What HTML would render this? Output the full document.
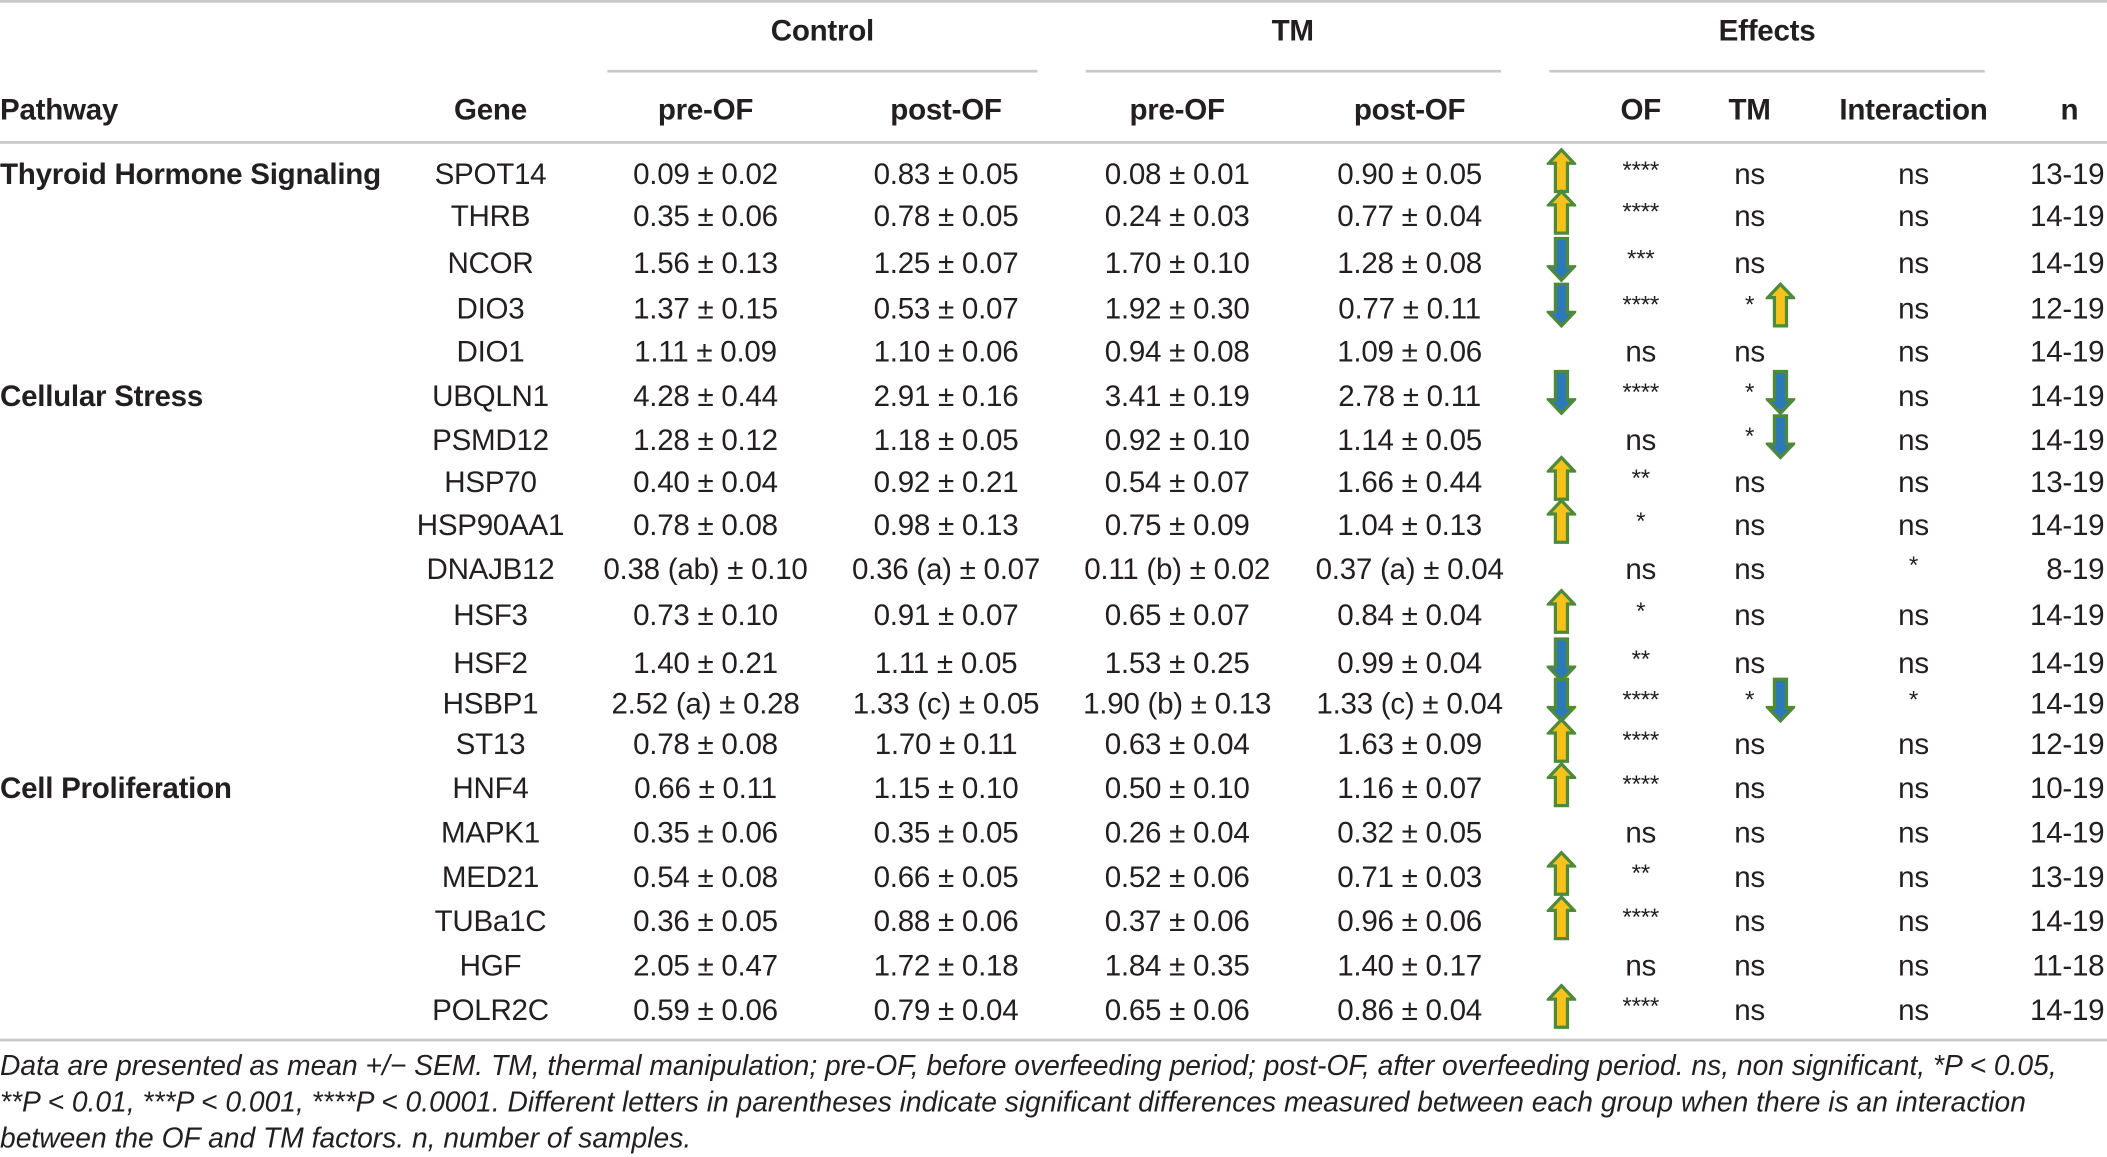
<!DOCTYPE html>
<html><head><meta charset="utf-8">
<style>
html,body{margin:0;padding:0;background:#fff;}
body{width:2107px;height:1157px;overflow:hidden;position:relative;}
#wrap{position:absolute;left:0;top:0;width:1568px;height:861px;transform:scale(1.34375);transform-origin:0 0;font-family:"Liberation Sans",sans-serif;color:#231f20;}
.t{position:absolute;white-space:nowrap;font-size:22px;transform:translate(-50%,-50%);letter-spacing:-0.2px;}
.l{transform:translate(0,-50%);}
.r{transform:translate(-100%,-50%);}
.b{font-weight:bold;}
.s{font-size:18px;}
.hl{position:absolute;height:2px;background:#c8c8c8;}
.foot{position:absolute;left:0;font-size:21px;font-style:italic;white-space:nowrap;letter-spacing:0px;}
svg.ar{position:absolute;}
</style></head><body>
<div id="wrap">
<div class="hl" style="left:0;top:0;width:1568px"></div>
<div class="t b" style="left:612px;top:23px">Control</div>
<div class="t b" style="left:962px;top:23px">TM</div>
<div class="t b" style="left:1315px;top:23px">Effects</div>
<div class="hl" style="left:452px;top:52px;width:320px"></div>
<div class="hl" style="left:808px;top:52px;width:309px"></div>
<div class="hl" style="left:1153px;top:52px;width:324px"></div>
<div class="t b l" style="left:0;top:82px">Pathway</div>
<div class="t b" style="left:365px;top:82px">Gene</div>
<div class="t b" style="left:525px;top:82px">pre-OF</div>
<div class="t b" style="left:704px;top:82px">post-OF</div>
<div class="t b" style="left:876px;top:82px">pre-OF</div>
<div class="t b" style="left:1049px;top:82px">post-OF</div>
<div class="t b" style="left:1221px;top:82px">OF</div>
<div class="t b" style="left:1302px;top:82px">TM</div>
<div class="t b" style="left:1424px;top:82px">Interaction</div>
<div class="t b" style="left:1540px;top:82px">n</div>
<div class="hl" style="left:0;top:105px;width:1568px"></div>
<div class="hl" style="left:0;top:773px;width:1568px"></div>
<div class="foot" style="top:782px">Data are presented as mean +/− SEM. TM, thermal manipulation; pre-OF, before overfeeding period; post-OF, after overfeeding period. ns, non significant, *P &lt; 0.05,</div>
<div class="foot" style="top:809px">**P &lt; 0.01, ***P &lt; 0.001, ****P &lt; 0.0001. Different letters in parentheses indicate significant differences measured between each group when there is an interaction</div>
<div class="foot" style="top:836px">between the OF and TM factors. n, number of samples.</div>
</div>
<script>
const genes=["SPOT14","THRB","NCOR","DIO3","DIO1","UBQLN1","PSMD12","HSP70","HSP90AA1","DNAJB12","HSF3","HSF2","HSBP1","ST13","HNF4","MAPK1","MED21","TUBa1C","HGF","POLR2C"];
const rowY=[130,161,196,230,262,295,328,359,391,424,458,494,524,554,587,620,653,686,719,752];
const pathways={0:"Thyroid Hormone Signaling",5:"Cellular Stress",14:"Cell Proliferation"};
const ctrlPre=["0.09 ± 0.02","0.35 ± 0.06","1.56 ± 0.13","1.37 ± 0.15","1.11 ± 0.09","4.28 ± 0.44","1.28 ± 0.12","0.40 ± 0.04","0.78 ± 0.08","0.38 (ab) ± 0.10","0.73 ± 0.10","1.40 ± 0.21","2.52 (a) ± 0.28","0.78 ± 0.08","0.66 ± 0.11","0.35 ± 0.06","0.54 ± 0.08","0.36 ± 0.05","2.05 ± 0.47","0.59 ± 0.06"];
const ctrlPost=["0.83 ± 0.05","0.78 ± 0.05","1.25 ± 0.07","0.53 ± 0.07","1.10 ± 0.06","2.91 ± 0.16","1.18 ± 0.05","0.92 ± 0.21","0.98 ± 0.13","0.36 (a) ± 0.07","0.91 ± 0.07","1.11 ± 0.05","1.33 (c) ± 0.05","1.70 ± 0.11","1.15 ± 0.10","0.35 ± 0.05","0.66 ± 0.05","0.88 ± 0.06","1.72 ± 0.18","0.79 ± 0.04"];
const tmPre=["0.08 ± 0.01","0.24 ± 0.03","1.70 ± 0.10","1.92 ± 0.30","0.94 ± 0.08","3.41 ± 0.19","0.92 ± 0.10","0.54 ± 0.07","0.75 ± 0.09","0.11 (b) ± 0.02","0.65 ± 0.07","1.53 ± 0.25","1.90 (b) ± 0.13","0.63 ± 0.04","0.50 ± 0.10","0.26 ± 0.04","0.52 ± 0.06","0.37 ± 0.06","1.84 ± 0.35","0.65 ± 0.06"];
const tmPost=["0.90 ± 0.05","0.77 ± 0.04","1.28 ± 0.08","0.77 ± 0.11","1.09 ± 0.06","2.78 ± 0.11","1.14 ± 0.05","1.66 ± 0.44","1.04 ± 0.13","0.37 (a) ± 0.04","0.84 ± 0.04","0.99 ± 0.04","1.33 (c) ± 0.04","1.63 ± 0.09","1.16 ± 0.07","0.32 ± 0.05","0.71 ± 0.03","0.96 ± 0.06","1.40 ± 0.17","0.86 ± 0.04"];
const ofEff=["****","****","***","****","ns","****","ns","**","*","ns","*","**","****","****","****","ns","**","****","ns","****"];
const tmEff=["ns","ns","ns","*","ns","*","*","ns","ns","ns","ns","ns","*","ns","ns","ns","ns","ns","ns","ns"];
const interEff=["ns","ns","ns","ns","ns","ns","ns","ns","ns","*","ns","ns","*","ns","ns","ns","ns","ns","ns","ns"];
const nVals=["13-19","14-19","14-19","12-19","14-19","14-19","14-19","13-19","14-19","8-19","14-19","14-19","14-19","12-19","10-19","14-19","13-19","14-19","11-18","14-19"];
const ofArrow=["up","up","down","down","","down","","up","up","","up","down","down","up","up","","up","up","","up"];
const tmArrow=["","","","up","","down","down","","","","","","down","","","","","","",""];
const W=document.getElementById('wrap');
function txt(s,x,y,cls){const d=document.createElement('div');d.className='t '+(cls||'');d.textContent=s;d.style.left=x+'px';d.style.top=y+'px';W.appendChild(d);return d;}
function arrow(dir,x,y){
 const ns='http://www.w3.org/2000/svg';const s=document.createElementNS(ns,'svg');
 s.setAttribute('class','ar');s.setAttribute('width','22');s.setAttribute('height','34');s.setAttribute('viewBox','0 0 22 34');
 s.style.left=(x-11)+'px';s.style.top=(y-17)+'px';
 const p=document.createElementNS(ns,'polygon');
 p.setAttribute('points',dir==='up'?'11,1.5 20.5,11.5 15.5,11.5 15.5,32.5 6.5,32.5 6.5,11.5 1.5,11.5':'11,32.5 20.5,22.5 15.5,22.5 15.5,1.5 6.5,1.5 6.5,22.5 1.5,22.5');
 p.setAttribute('fill',dir==='up'?'#f7c21a':'#2b79b8');p.setAttribute('stroke','#4f8a3a');p.setAttribute('stroke-width','2.4');
 s.appendChild(p);W.appendChild(s);return s;}
function isStar(v){return v.indexOf('*')===0;}
for(let i=0;i<genes.length;i++){
 const y=rowY[i];let e;
 if(pathways[i]!==undefined){e=txt(pathways[i],0,y,'b l');
 
 }
 e=txt(genes[i],365,y);
 
 
 e=txt(ctrlPre[i],525,y);
 
 
 e=txt(ctrlPost[i],704,y);
 
 
 e=txt(tmPre[i],876,y);
 
 
 e=txt(tmPost[i],1049,y);
 
 
 e=txt(ofEff[i],1221,isStar(ofEff[i])?y-3:y,isStar(ofEff[i])?'s':'');
 
 
 e=txt(tmEff[i],1302,isStar(tmEff[i])?y-3:y,isStar(tmEff[i])?'s':'');
 
 
 e=txt(interEff[i],1424,isStar(interEff[i])?y-3:y,isStar(interEff[i])?'s':'');
 
 
 e=txt(nVals[i],1566,y,'r');
 
 
 if(ofArrow[i]){e=arrow(ofArrow[i],1162,y-3);
 
 }
 if(tmArrow[i]){e=arrow(tmArrow[i],1325,y-3);
 
 }
}
</script>
</body></html>
